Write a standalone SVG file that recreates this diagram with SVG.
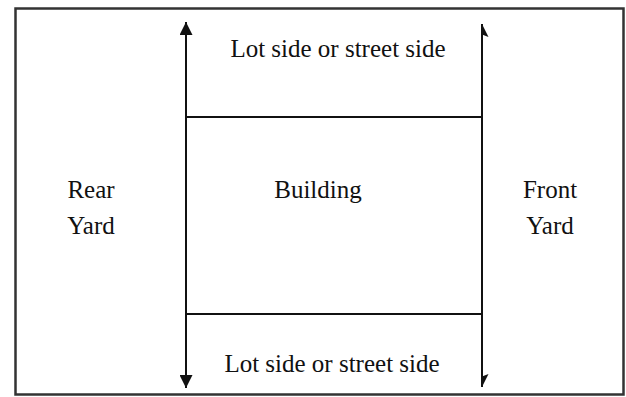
<svg xmlns="http://www.w3.org/2000/svg" width="626" height="397" viewBox="0 0 626 397">
<style>
  text { font-family: "Liberation Serif", "Times New Roman", serif; font-size: 25px; fill: #111; text-anchor: middle; }
  .ln { stroke: #111; stroke-width: 2; fill: none; }
</style>
<defs>
  <marker id="full" viewBox="0 0 10 10" refX="10" refY="5" markerWidth="6.5" markerHeight="6.5" orient="auto" markerUnits="strokeWidth">
    <path d="M0,0 L10,5 L0,10 Z" fill="#111"/>
  </marker>
  <marker id="halfTop" viewBox="0 0 10 10" refX="10" refY="5" markerWidth="6.5" markerHeight="6.5" orient="auto" markerUnits="strokeWidth">
    <path d="M0,10 L10,5 L2,5 Z" fill="#111"/>
  </marker>
  <marker id="halfBot" viewBox="0 0 10 10" refX="10" refY="5" markerWidth="6.5" markerHeight="6.5" orient="auto" markerUnits="strokeWidth">
    <path d="M0,0 L10,5 L2,5 Z" fill="#111"/>
  </marker>
</defs>
<rect width="626" height="397" fill="#fff"/>
<rect x="15.5" y="8.5" width="608" height="386" fill="#fff" stroke="#333" stroke-width="2.5"/>
<g id="connectors">
  <line class="ln" x1="186" y1="200" x2="186" y2="22" marker-end="url(#full)"/>
  <line class="ln" x1="186" y1="200" x2="186" y2="388" marker-end="url(#full)"/>
  <line class="ln" x1="482" y1="200" x2="482" y2="24" marker-end="url(#halfTop)"/>
  <line class="ln" x1="482" y1="200" x2="482" y2="387" marker-end="url(#halfBot)"/>
</g>
<g id="building">
  <line class="ln" x1="186" y1="117" x2="482" y2="117"/>
  <line class="ln" x1="186" y1="314" x2="482" y2="314"/>
  <text x="318" y="198">Building</text>
</g>
<g id="lot-top"><text x="338" y="57">Lot side or street side</text></g>
<g id="lot-bottom"><text x="332" y="372">Lot side or street side</text></g>
<g id="rear-yard"><text x="91" y="198">Rear</text><text x="91" y="234">Yard</text></g>
<g id="front-yard"><text x="550" y="198">Front</text><text x="550" y="234">Yard</text></g>
</svg>
